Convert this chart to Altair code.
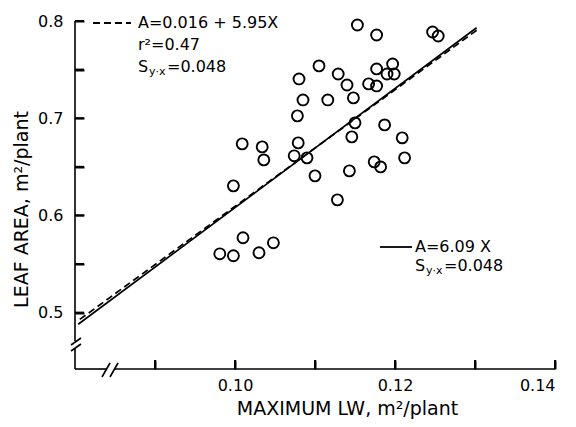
import altair as alt
import pandas as pd

# Scatter data (maximum LW, leaf area)
lw = [0.1153, 0.1177, 0.1247, 0.1254, 0.1105, 0.1129, 0.1080, 0.1140, 0.1177, 0.1197,
      0.1190, 0.1199, 0.1167, 0.1177, 0.1085, 0.1116, 0.1148, 0.1078, 0.1150, 0.1187,
      0.1034, 0.1009, 0.1036, 0.1079, 0.1074, 0.1090, 0.1146, 0.1209, 0.1100, 0.1143,
      0.1174, 0.1182, 0.1212, 0.0998, 0.1128, 0.1010, 0.1048, 0.0981, 0.0998, 0.1030]
area = [0.7959, 0.7856, 0.7887, 0.7846, 0.7538, 0.7455, 0.7404, 0.7342, 0.7507, 0.7558,
        0.7455, 0.7455, 0.7353, 0.7332, 0.7188, 0.7188, 0.7209, 0.7024, 0.6952, 0.6931,
        0.6705, 0.6736, 0.6571, 0.6746, 0.6613, 0.6592, 0.6808, 0.6798, 0.6407, 0.6458,
        0.6551, 0.6499, 0.6592, 0.6304, 0.6160, 0.5770, 0.5718, 0.5605, 0.5585, 0.5616]

# Regression lines (end points)
solid_x = [0.0804, 0.1302]
solid_y = [0.488, 0.793]
dash_x = [0.0806, 0.1303]
dash_y = [0.493, 0.791]

# Axis ticks (labels only on every other x tick and every 0.1 on y)
x_ticks = [0.09, 0.10, 0.11, 0.12, 0.13, 0.14]
y_ticks = [0.50, 0.55, 0.60, 0.65, 0.70, 0.75, 0.80]

FONT = "DejaVu Sans"
W, H = 480, 348
XD = [0.08, 0.14]
YD = [0.442, 0.80]

xs = alt.Scale(domain=XD, nice=False, zero=False)
ys = alt.Scale(domain=YD, nice=False, zero=False)

pts = pd.DataFrame({"lw": lw, "area": area})
solid = pd.DataFrame({"sx": solid_x, "sy": solid_y})
dashed = pd.DataFrame({"dx": dash_x, "dy": dash_y})
one = pd.DataFrame({"a": [0]})

INWARD = alt.ExprRef(expr="-9")

base_x = alt.X("lw:Q", scale=xs,
               axis=alt.Axis(values=x_ticks, domain=False, ticks=True, tickSize=INWARD,
                             tickWidth=2, tickColor="black",
                             labelExpr="round(datum.value*100) % 2 == 0 ? format(datum.value, '.2f') : ''",
                             grid=False, labelPadding=17, labelFontSize=16, labelFont=FONT,
                             labelColor="black",
                             title="MAXIMUM LW, m²/plant", titleFont=FONT, titleFontSize=19,
                             titleFontWeight="normal", titleColor="black",
                             titleX=272, titleY=39, titleBaseline="middle"))
base_y = alt.Y("area:Q", scale=ys,
               axis=alt.Axis(values=y_ticks, domain=False, ticks=True, tickSize=INWARD,
                             tickWidth=2, tickColor="black",
                             labelExpr="round(datum.value*100) % 10 == 0 ? format(datum.value, '.1f') : ''",
                             grid=False, labelPadding=21, labelFontSize=16, labelFont=FONT,
                             labelColor="black",
                             title="LEAF AREA, m²/plant", titleFont=FONT, titleFontSize=19,
                             titleFontWeight="normal", titleColor="black",
                             titleX=-54, titleY=188, titleBaseline="middle", titleAngle=270))

points = alt.Chart(pts).mark_point(shape="circle", filled=False, color="black",
                                   strokeWidth=1.9, size=120, opacity=1).encode(x=base_x, y=base_y)

line_solid = alt.Chart(solid).mark_line(color="black", strokeWidth=1.7).encode(
    x=alt.X("sx:Q", scale=xs), y=alt.Y("sy:Q", scale=ys))
line_dash = alt.Chart(dashed).mark_line(color="black", strokeWidth=1.7, strokeDash=[7, 4]).encode(
    x=alt.X("dx:Q", scale=xs), y=alt.Y("dy:Q", scale=ys))

def seg(x1, y1, x2, y2, w=1.6):
    return alt.Chart(one).mark_rule(color="black", strokeWidth=w).encode(
        x=alt.value(x1), y=alt.value(y1), x2=alt.value(x2), y2=alt.value(y2))

axes = [
    seg(0, 0, 0, 320),      # y axis upper part
    seg(0, 327, 0, H),      # y axis lower part
    seg(-4, 324, 6, 317),   # y break
    seg(-4, 330, 6, 323),
    seg(0, H, 31, H),       # x axis left part
    seg(39, H, W, H),       # x axis right part
    seg(27, H + 8, 35, H - 6),  # x break
    seg(35, H + 8, 43, H - 6),
]

# inward tick marks derived from the tick lists through the linear axis mapping
def xpix(v):
    return (v - XD[0]) / (XD[1] - XD[0]) * W

def ypix(v):
    return (YD[1] - v) / (YD[1] - YD[0]) * H

tick_marks = [seg(xpix(t), H, xpix(t), H - 9, 2) for t in x_ticks] + \
             [seg(0, ypix(t), 9, ypix(t), 2) for t in y_ticks]

def txt(s, x, y, size=16):
    return alt.Chart(one).mark_text(text=s, font=FONT, fontSize=size, align="left",
                                    baseline="middle", color="black").encode(
        x=alt.value(x), y=alt.value(y))

annots = [
    alt.Chart(one).mark_rule(color="black", strokeWidth=1.8, strokeDash=[7, 4]).encode(
        x=alt.value(18), x2=alt.value(56), y=alt.value(2)),
    txt("A=0.016 + 5.95X", 63, 2),
    txt("r²=0.47", 63, 24),
    txt("S", 63, 46),
    txt("y·x", 74, 51, 11),
    txt("=0.048", 92, 46),
    alt.Chart(one).mark_rule(color="black", strokeWidth=1.8).encode(
        x=alt.value(305), x2=alt.value(337), y=alt.value(226)),
    txt("A=6.09 X", 340, 226),
    txt("S", 340, 245),
    txt("y·x", 351, 250, 11),
    txt("=0.048", 369, 245),
]

chart = alt.layer(points, line_solid, line_dash, *axes, *tick_marks, *annots).properties(
    width=W, height=H,
    autosize=alt.AutoSizeParams(type="none"),
    padding={"left": 67, "top": 13, "right": 10, "bottom": 50},
    background="white",
).configure_view(stroke=None)

chart.save("out.html", embed_options={"renderer": "svg", "actions": False})
